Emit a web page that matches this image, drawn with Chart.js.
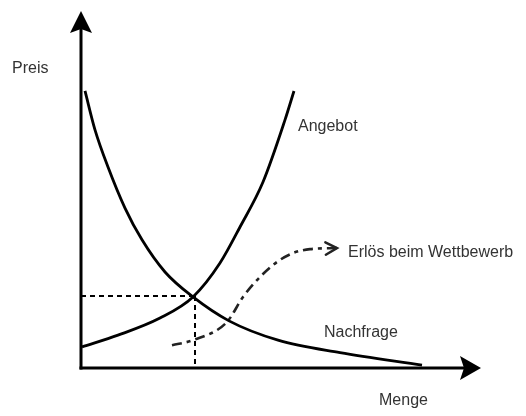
<!DOCTYPE html>
<html>
<head>
<meta charset="utf-8">
<script src="https://cdn.jsdelivr.net/npm/chart.js@4/dist/chart.umd.min.js"></script>
<style>
  html, body { margin: 0; padding: 0; background: #fff; }
  #wrap { width: 526px; height: 416px; }
</style>
</head>
<body>
<div id="wrap"><canvas id="chart" width="526" height="416"></canvas></div>
<script>
const angebotMenge = [0.25, 9.25, 19.75, 28, 34.75, 39.75, 45.5, 51, 53.25];
const angebotPreis = [5.9, 9.2, 14.0, 19.9, 29.4, 39.5, 52.1, 69.5, 77.6];

const nachfrageMenge = [1, 3.5, 6.75, 11, 15.25, 21, 28, 37, 49.25, 64.75, 85.25];
const nachfragePreis = [77.6, 66.7, 56.3, 44.8, 35.9, 26.9, 19.9, 13.2, 7.8, 4.3, 0.8];

const erloesMenge = [22.75, 28, 36.5, 40.5, 44.75, 49, 53, 57.25, 64];
const erloesPreis = [6.4, 7.8, 12.9, 19.9, 25.5, 29.7, 32.2, 33.3, 33.6];

const gleichgewichtMenge = 28.5;
const gleichgewichtPreis = 20.2;

// Beschriftungen: Text und Ankerpunkt in Achsenwerten
const labelTexte = ['Preis', 'Angebot', 'Erlös beim Wettbewerb', 'Nachfrage', 'Menge'];
const labelMenge = [-17.25, 54.25, 66.75, 60.75, 74.5];
const labelPreis = [84.0, 67.5, 32.2, 9.8, -9.2];

const toPoints = (xs, ys) => xs.map((v, i) => ({ x: v, y: ys[i] }));

const skizzePlugin = {
  id: 'skizze',
  beforeDatasetsDraw(chart) {
    const { ctx, scales: { x, y } } = chart;
    const x0 = x.getPixelForValue(0), y0 = y.getPixelForValue(0);
    const xEnd = x.getPixelForValue(100), yEnd = y.getPixelForValue(100);
    ctx.save();
    ctx.strokeStyle = '#000';
    ctx.fillStyle = '#000';
    ctx.lineWidth = 3;
    // Achsen
    ctx.beginPath();
    ctx.moveTo(x0, y0 + 1.5);
    ctx.lineTo(x0, yEnd + 14);
    ctx.stroke();
    ctx.beginPath();
    ctx.moveTo(x0 - 1.5, y0);
    ctx.lineTo(xEnd - 14, y0);
    ctx.stroke();
    // Pfeilspitzen
    ctx.beginPath();
    ctx.moveTo(x0, yEnd);
    ctx.lineTo(x0 - 11, yEnd + 22);
    ctx.lineTo(x0, yEnd + 18);
    ctx.lineTo(x0 + 11, yEnd + 22);
    ctx.closePath();
    ctx.fill();
    ctx.beginPath();
    ctx.moveTo(xEnd, y0);
    ctx.lineTo(xEnd - 21, y0 - 12);
    ctx.lineTo(xEnd - 17, y0);
    ctx.lineTo(xEnd - 21, y0 + 12);
    ctx.closePath();
    ctx.fill();
    ctx.restore();
  },
  afterDatasetsDraw(chart) {
    const { ctx, scales: { x, y } } = chart;
    ctx.save();
    // offene Pfeilspitze am Ende der Erlös-Kurve
    const pts = chart.getDatasetMeta(2).data;
    const tip = pts[pts.length - 1], prev = pts[pts.length - 2];
    const ang = Math.atan2(tip.y - prev.y, tip.x - prev.x);
    ctx.strokeStyle = '#222';
    ctx.lineWidth = 2.5;
    ctx.lineCap = 'round';
    ctx.beginPath();
    ctx.moveTo(tip.x + 13 * Math.cos(ang + Math.PI - 0.5), tip.y + 13 * Math.sin(ang + Math.PI - 0.5));
    ctx.lineTo(tip.x, tip.y);
    ctx.lineTo(tip.x + 13 * Math.cos(ang + Math.PI + 0.5), tip.y + 13 * Math.sin(ang + Math.PI + 0.5));
    ctx.stroke();
    // Beschriftungen
    ctx.fillStyle = '#333';
    ctx.font = '16px "Liberation Sans", Arial, sans-serif';
    ctx.textAlign = 'left';
    ctx.textBaseline = 'middle';
    labelTexte.forEach((t, i) => {
      ctx.fillText(t, x.getPixelForValue(labelMenge[i]), y.getPixelForValue(labelPreis[i]));
    });
    ctx.restore();
  }
};

const ctx = document.getElementById('chart').getContext('2d');
const chart = new Chart(ctx, {
  type: 'line',
  data: {
    datasets: [{
      label: 'Angebot',
      data: toPoints(angebotMenge, angebotPreis),
      borderColor: '#000',
      borderWidth: 2.8,
      cubicInterpolationMode: 'monotone',
      pointRadius: 0
    }, {
      label: 'Nachfrage',
      data: toPoints(nachfrageMenge, nachfragePreis),
      borderColor: '#000',
      borderWidth: 2.8,
      cubicInterpolationMode: 'monotone',
      pointRadius: 0
    }, {
      label: 'Erlös beim Wettbewerb',
      data: toPoints(erloesMenge, erloesPreis),
      borderColor: '#222',
      borderWidth: 2.6,
      borderDash: [10, 5, 4, 5],
      cubicInterpolationMode: 'monotone',
      pointRadius: 0
    }, {
      label: 'Gleichgewichtspreis',
      data: [{ x: 0, y: gleichgewichtPreis }, { x: gleichgewichtMenge, y: gleichgewichtPreis }],
      borderColor: '#000',
      borderWidth: 2,
      borderDash: [5, 4],
      pointRadius: 0
    }, {
      label: 'Gleichgewichtsmenge',
      data: [{ x: gleichgewichtMenge, y: gleichgewichtPreis }, { x: gleichgewichtMenge, y: 0 }],
      borderColor: '#000',
      borderWidth: 2,
      borderDash: [5, 4],
      pointRadius: 0
    }]
  },
  options: {
    responsive: false,
    animation: false,
    devicePixelRatio: 1,
    layout: { padding: { left: 81, right: 45, top: 11, bottom: 48 } },
    scales: {
      x: { type: 'linear', min: 0, max: 100, display: false },
      y: { type: 'linear', min: 0, max: 100, display: false }
    },
    plugins: {
      legend: { display: false },
      tooltip: { enabled: false }
    }
  },
  plugins: [skizzePlugin]
});
</script>
</body>
</html>
